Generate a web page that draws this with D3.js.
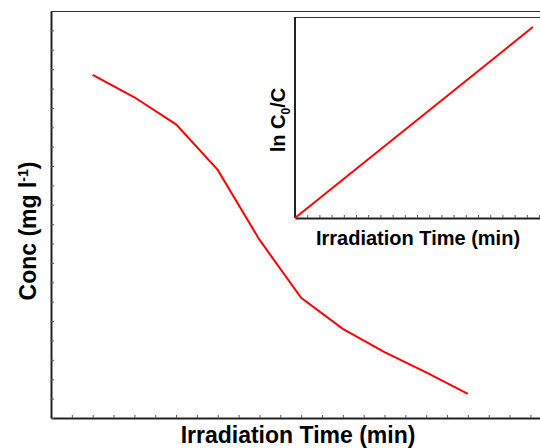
<!DOCTYPE html>
<html>
<head>
<meta charset="utf-8">
<script src="https://cdn.jsdelivr.net/npm/d3@7"></script>
<style>
  body { margin: 0; background: #fff; }
  text { font-family: "Liberation Sans", Arial, sans-serif; font-weight: bold; fill: #000; }
</style>
</head>
<body>
<div id="chart"></div>
<script>
// main curve: concentration vs irradiation time
const times = [10, 20, 30, 40, 50, 60, 70, 80, 90, 100];
const conc = [17.7, 16.55, 15.15, 12.8, 9.2, 6.2, 4.6, 3.4, 2.35, 1.25];

// inset: ln(C0/C) vs time (straight fit)
const insetTimes = [0, 97.5];
const insetLn = [0, 0.95];

const width = 540, height = 448;

const svg = d3.select("#chart")
  .append("svg")
  .attr("width", width)
  .attr("height", height);

// main axes
const x = d3.scaleLinear().domain([0, 117.3]).range([51, 540]);
const y = d3.scaleLinear().domain([0, 21]).range([418, 11]);

svg.append("g")
  .attr("transform", `translate(0,${y(0)})`)
  .call(d3.axisBottom(x).tickValues(d3.range(0, 117.3, 5)).tickSize(-3).tickSizeOuter(0).tickFormat(""))
  .call(g => g.select(".domain").attr("stroke", "#222").attr("stroke-width", 2))
  .call(g => g.selectAll(".tick line").attr("stroke", "#555"));

svg.append("g")
  .attr("transform", `translate(${x(0)},0)`)
  .call(d3.axisLeft(y).tickValues(d3.range(0, 21.01, 1)).tickSize(-3).tickSizeOuter(0).tickFormat(""))
  .call(g => g.select(".domain").attr("stroke", "#222").attr("stroke-width", 2))
  .call(g => g.selectAll(".tick line").attr("stroke", "#555"));

// top frame line
svg.append("line")
  .attr("x1", x(0)).attr("x2", width)
  .attr("y1", y(21) + 0.5).attr("y2", y(21) + 0.5)
  .attr("stroke", "#333").attr("stroke-width", 1);

const line = d3.line()
  .x((d, i) => x(times[i]))
  .y(d => y(d));

svg.append("path")
  .datum(conc)
  .attr("d", line)
  .attr("fill", "none")
  .attr("stroke", "#ff0000")
  .attr("stroke-width", 2);

// axis titles
svg.append("text")
  .attr("x", 298)
  .attr("y", 443)
  .attr("text-anchor", "middle")
  .style("font-size", "23px")
  .text("Irradiation Time (min)");

const yt = svg.append("text")
  .attr("transform", "translate(36,231) rotate(-90)")
  .attr("text-anchor", "middle")
  .style("font-size", "23px");
yt.append("tspan").text("Conc (mg l");
yt.append("tspan").attr("dy", -8).style("font-size", "14px").text("-1");
yt.append("tspan").attr("dy", 8).text(")");

// inset
const xi = d3.scaleLinear().domain([0, 100.4]).range([295, 540]);
const yi = d3.scaleLinear().domain([0, 1]).range([218, 17]);

svg.append("rect")
  .attr("x", xi(0)).attr("y", yi(1))
  .attr("width", width - xi(0)).attr("height", yi(0) - yi(1))
  .attr("fill", "#fff");

svg.append("line")
  .attr("x1", xi(0)).attr("x2", width)
  .attr("y1", yi(1) + 0.5).attr("y2", yi(1) + 0.5)
  .attr("stroke", "#333").attr("stroke-width", 1);

svg.append("g")
  .attr("transform", `translate(0,${yi(0)})`)
  .call(d3.axisBottom(xi).tickValues(d3.range(0, 100.4, 5)).tickSize(-3).tickSizeOuter(0).tickFormat(""))
  .call(g => g.select(".domain").attr("stroke", "#222").attr("stroke-width", 2))
  .call(g => g.selectAll(".tick line").attr("stroke", "#555"));

svg.append("line")
  .attr("x1", xi(0)).attr("x2", xi(0))
  .attr("y1", yi(1)).attr("y2", yi(0))
  .attr("stroke", "#222").attr("stroke-width", 2);

const insetLine = d3.line()
  .x((d, i) => xi(insetTimes[i]))
  .y(d => yi(d));

svg.append("path")
  .datum(insetLn)
  .attr("d", insetLine)
  .attr("fill", "none")
  .attr("stroke", "#ff0000")
  .attr("stroke-width", 2);

svg.append("text")
  .attr("x", 418)
  .attr("y", 245)
  .attr("text-anchor", "middle")
  .style("font-size", "20px")
  .text("Irradiation Time (min)");

const yit = svg.append("text")
  .attr("transform", "translate(285,120) rotate(-90)")
  .attr("text-anchor", "middle")
  .style("font-size", "20px");
yit.append("tspan").text("ln C");
yit.append("tspan").attr("dy", 5).style("font-size", "12px").text("0");
yit.append("tspan").attr("dy", -5).text("/C");
</script>
</body>
</html>
